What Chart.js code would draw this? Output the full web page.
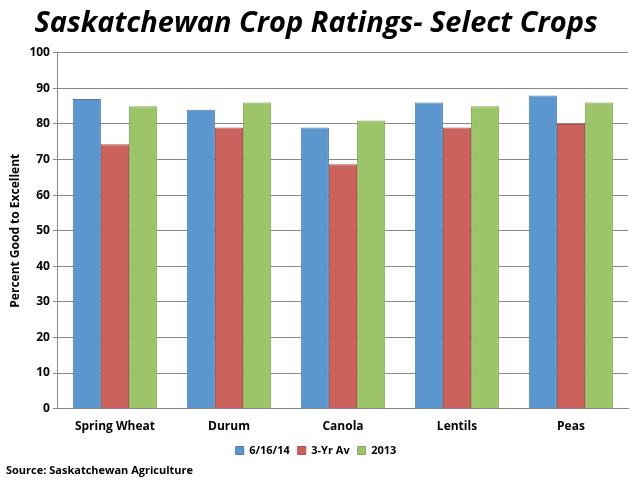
<!DOCTYPE html>
<html><head>
<script src="https://cdn.jsdelivr.net/npm/chart.js@4"></script>
<style>body{margin:0;background:#fff}#wrap{width:640px;height:480px;position:relative}</style>
</head><body>
<div id="wrap"><canvas id="c" width="640" height="480"></canvas></div>
<script>
const categories = ['Spring Wheat', 'Durum', 'Canola', 'Lentils', 'Peas'];
const current = [87, 84, 79, 86, 88];
const threeYrAv = [74.3, 79, 68.7, 79, 80];
const last2013 = [85, 86, 81, 85, 86];

const sourceNote = {
    id: 'sourceNote',
    afterDraw(chart) {
        const ctx = chart.ctx;
        ctx.save();
        ctx.font = 'bold 11px "Open Sans"';
        ctx.fillStyle = '#000';
        ctx.textBaseline = 'alphabetic';
        ctx.fillText('Source: Saskatchewan Agriculture', 6, 474);
        ctx.restore();
    }
};

new Chart(document.getElementById('c'), {
    type: 'bar',
    data: {
        labels: categories,
        datasets: [
            { label: '6/16/14', data: current, backgroundColor: '#5b96cf', borderColor: '#4a7fb3', borderWidth: 1 },
            { label: '3-Yr Av', data: threeYrAv, backgroundColor: '#cc625c', borderColor: '#b04f4a', borderWidth: 1 },
            { label: '2013', data: last2013, backgroundColor: '#9cc468', borderColor: '#84a855', borderWidth: 1 }
        ]
    },
    options: {
        responsive: false,
        animation: false,
        devicePixelRatio: 1,
        layout: { padding: { left: 4, right: 12, top: 0, bottom: 14 } },
        datasets: { bar: { categoryPercentage: 0.74, barPercentage: 1 } },
        plugins: {
            title: {
                display: true,
                text: 'Saskatchewan Crop Ratings- Select Crops',
                color: '#000',
                font: { family: '"Open Sans"', size: 29, weight: 'bold', style: 'italic' },
                padding: { top: 6, bottom: 12 }
            },
            legend: {
                position: 'bottom',
                labels: { color: '#000', font: { family: '"Open Sans"', size: 11, weight: 'bold' }, boxWidth: 8, boxHeight: 8, padding: 8 }
            },
            tooltip: { enabled: false }
        },
        scales: {
            x: {
                grid: { display: false },
                border: { color: '#888' },
                ticks: { color: '#000', font: { family: '"Open Sans"', size: 12, weight: 'bold' } }
            },
            y: {
                min: 0, max: 100,
                ticks: { stepSize: 10, color: '#000', font: { family: '"Open Sans"', size: 12, weight: 'bold' } },
                grid: { color: '#888', drawTicks: true, tickLength: 5 },
                border: { color: '#888' },
                title: { display: true, text: 'Percent Good to Excellent', color: '#000', font: { family: '"Open Sans"', size: 12, weight: 'bold' } }
            }
        }
    },
    plugins: [sourceNote]
});
</script>
</body></html>
